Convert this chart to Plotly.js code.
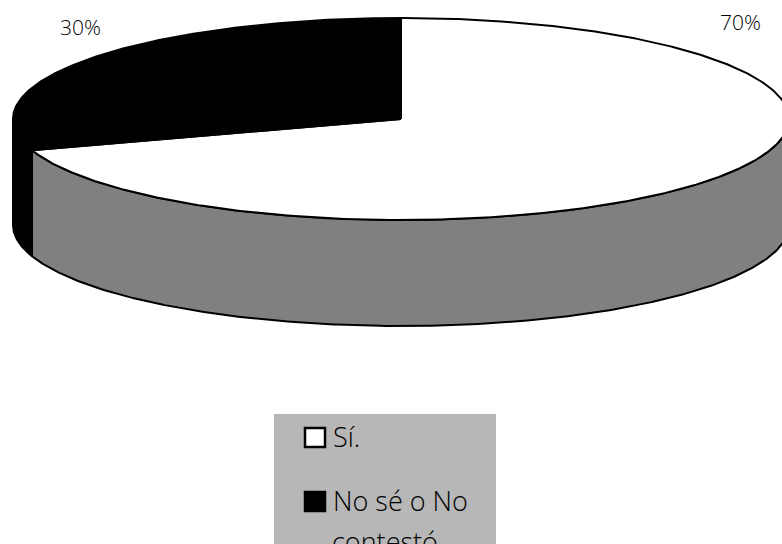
<!DOCTYPE html>
<html>
<head>
<meta charset="utf-8">
<script src="https://cdn.plot.ly/plotly-3.0.1.min.js"></script>
<style>html,body{margin:0;padding:0;background:#fff;overflow:hidden}</style>
</head>
<body>
<div id="chart" style="width:782px;height:544px"></div>
<script>
const categories = ['Sí.', 'No sé o No contestó'];
const shares = [70, 30];
const sliceLabels = ['70%', '30%'];
const topColors = ['#ffffff', '#000000'];
const sideColors = ['#808080', '#000000'];

const cx = 401, cy = 119, rx = 388, ry = 101, depth = 106;
const font = 'Open Sans, Liberation Sans, sans-serif';

function pt(deg, dy) {
  const a = deg * Math.PI / 180;
  return [cx + rx * Math.sin(a), cy - ry * Math.cos(a) + (dy || 0)];
}
function arc(a0, a1, dy) {
  const out = [], n = Math.max(2, Math.ceil(Math.abs(a1 - a0) * 2));
  for (let i = 0; i <= n; i++) out.push(pt(a0 + (a1 - a0) * i / n, dy));
  return out;
}
function polyTrace(points, fill, lw, name) {
  return {
    type: 'scatter', mode: 'lines', name: name, hoverinfo: 'name', showlegend: false,
    x: points.map(p => p[0]), y: points.map(p => p[1]),
    fill: 'toself', fillcolor: fill, line: {color: '#000', width: lw}
  };
}

const total = shares.reduce((a, b) => a + b, 0);
const traces = [];
const topTraces = [];
let start = 0;
shares.forEach((s, i) => {
  const end = start + s / total * 360;
  const a0 = Math.max(start, 90), a1 = Math.min(end, 270);
  if (a1 > a0) {
    traces.push(polyTrace(arc(a0, a1, 0).concat(arc(a1, a0, depth), [pt(a0, 0)]), sideColors[i], 2, categories[i]));
  }
  topTraces.push(polyTrace([[cx, cy]].concat(arc(start, end, 0), [[cx, cy]]), topColors[i], 2, categories[i]));
  start = end;
});

const legendSwatchX = [304, 304], legendSwatchY = [427, 491];
const shapes = [
  {type: 'rect', xref: 'x', yref: 'y', layer: 'below', x0: 274, x1: 496, y0: 414, y1: 544, fillcolor: '#b7b7b7', line: {width: 0}}
];
legendSwatchX.forEach((x, i) => shapes.push({
  type: 'rect', xref: 'x', yref: 'y', layer: 'above',
  x0: x + 1, x1: x + 21, y0: legendSwatchY[i] + 1, y1: legendSwatchY[i] + 20,
  fillcolor: topColors[i], line: {color: '#000', width: 2.5}
}));

function ann(text, x, y, size, anchor) {
  return {text: text, x: x, y: y, xref: 'x', yref: 'y', showarrow: false,
    xanchor: anchor || 'center', yanchor: 'middle',
    font: {family: font, size: size, color: '#000', weight: 300}};
}
const annotations = [
  ann(sliceLabels[0], 740, 22, 21),
  ann(sliceLabels[1], 80, 27, 21),
  ann('Sí.', 331, 436, 27, 'left'),
  ann('No sé o No', 331, 500, 27, 'left'),
  ann('contestó', 385, 541, 27)
];

Plotly.newPlot('chart', traces.concat(topTraces), {
  width: 782, height: 544,
  margin: {l: 0, r: 0, t: 0, b: 0},
  paper_bgcolor: '#fff', plot_bgcolor: '#fff',
  xaxis: {range: [0, 782], visible: false, fixedrange: true},
  yaxis: {range: [544, 0], visible: false, fixedrange: true},
  showlegend: false, shapes: shapes, annotations: annotations
}, {displayModeBar: false, staticPlot: true});
</script>
</body>
</html>
